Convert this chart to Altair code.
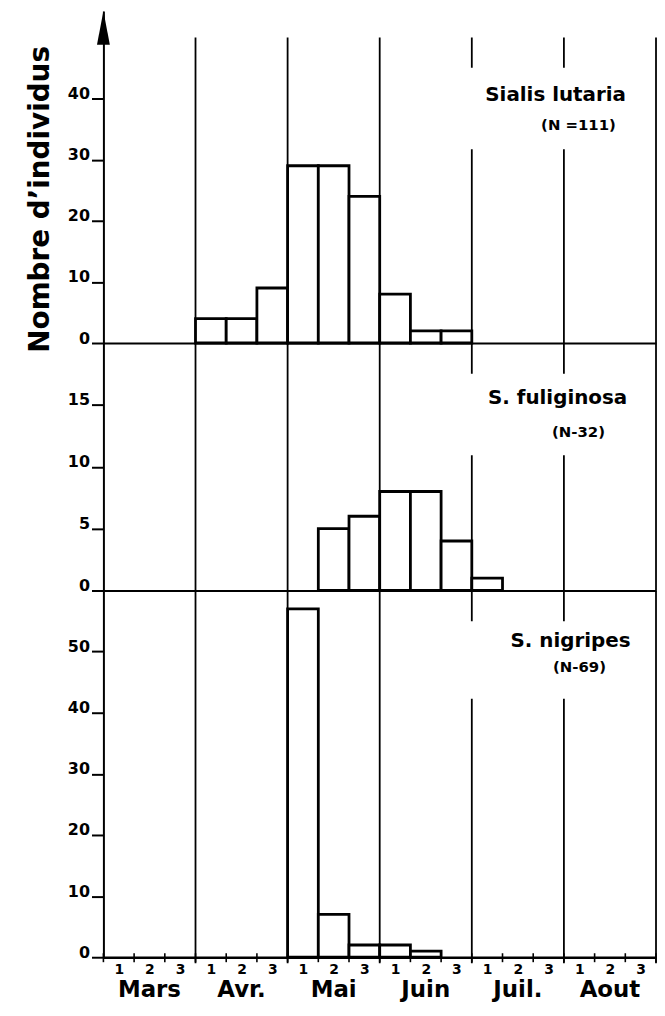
import altair as alt
import pandas as pd

# ---------------- data ----------------
months = ["Mars", "Avr.", "Mai", "Juin", "Juil.", "Aout"]
decade_names = ["1", "2", "3"]

# decade index: 0 = Mars 1, 1 = Mars 2, ... 17 = Aout 3
lutaria_decade = [3, 4, 5, 6, 7, 8, 9, 10, 11]
lutaria_count = [4, 4, 9, 29, 29, 24, 8, 2, 2]
fulig_decade = [7, 8, 9, 10, 11, 12]
fulig_count = [5, 6, 8, 8, 4, 1]
nigr_decade = [6, 7, 8, 9, 10]
nigr_count = [57, 7, 2, 2, 1]

species = ["Sialis lutaria", "S. fuliginosa", "S. nigripes"]
n_labels = ["(N =111)", "(N-32)", "(N-69)"]

y_ticks_1 = [0, 10, 20, 30, 40]
y_ticks_2 = [0, 5, 10, 15]
y_ticks_3 = [0, 10, 20, 30, 40, 50]
y_title = "Nombre d\u2019individus"

# ---------------- style ----------------
FONT = "DejaVu Sans"
W = 556
K = 6.15
H1, H2, H3 = 334, 249, 369
Y1MAX, Y2MAX, Y3MAX = H1 / K, 20, 60
n_dec = 3 * len(months)

xscale = alt.Scale(domain=[0, n_dec], nice=False, zero=False)
boundaries = [3 * (i + 1) for i in range(len(months))]
month_centers = [3 * i + 1.5 for i in range(len(months))]
label_expr = "[" + ",".join("'%s'" % d for d in decade_names) + "][floor(datum.value) % 3]"

ARROW = "M0,-1L0.38,1L-0.38,1Z"


def one():
    return pd.DataFrame({"a": [0]})


def panel(dec, cnt, H, ymax, yvals, sp, nl, sp_xy, nl_xy, mask_y, rule_top,
          title=False, bottom=False):
    if bottom:
        xaxis = alt.Axis(values=[i + 0.5 for i in range(n_dec)], labelExpr=label_expr,
                         ticks=False, tickSize=0, labelPadding=5, labelFontSize=14,
                         labelFont=FONT, labelFontWeight="bold", labelColor="black",
                         labelOverlap=False, title=None, domainWidth=2.5,
                         domainColor="black", grid=False)
    else:
        xaxis = alt.Axis(labels=False, ticks=False, title=None, domainWidth=2,
                         domainColor="black", grid=False)
    X = alt.X("x:Q", scale=xscale, axis=xaxis)

    yaxis_kw = dict(values=yvals, tickSize=12, tickWidth=2, tickColor="black",
                    labelPadding=2, labelBaseline="alphabetic", labelFontSize=16,
                    labelFont=FONT, labelFontWeight="bold", labelColor="black",
                    domainWidth=2, domainColor="black", grid=False)
    if title:
        yaxis = alt.Axis(title=y_title, titleFont=FONT, titleFontSize=28,
                         titleFontWeight="bold", titleColor="black",
                         titleX=-49, titleY=189, **yaxis_kw)
    else:
        yaxis = alt.Axis(title=None, **yaxis_kw)

    rules = alt.Chart(pd.DataFrame({"x": boundaries})).mark_rule(
        color="black", strokeWidth=1.8).encode(
        x=X, y=alt.value(rule_top), y2=alt.value(H + (6 if bottom else 0)))

    mask = alt.Chart(one()).mark_rect(fill="white").encode(
        x=alt.value(365), x2=alt.value(540), y=alt.value(mask_y[0]), y2=alt.value(mask_y[1]))

    sp_text = alt.Chart(pd.DataFrame({"label": [sp]})).mark_text(
        font=FONT, fontSize=20, fontWeight="bold", color="black").encode(
        x=alt.value(sp_xy[0]), y=alt.value(sp_xy[1]), text="label:N")
    nl_text = alt.Chart(pd.DataFrame({"label": [nl]})).mark_text(
        font=FONT, fontSize=15, fontWeight="bold", color="black").encode(
        x=alt.value(nl_xy[0]), y=alt.value(nl_xy[1]), text="label:N")

    bars = alt.Chart(pd.DataFrame({"x": dec, "n": cnt})).transform_calculate(
        x2="datum.x + 1").mark_rect(fill="white", stroke="black", strokeWidth=2.8,
                                    strokeJoin="miter").encode(
        x=X, x2="x2:Q",
        y=alt.Y("n:Q", scale=alt.Scale(domain=[0, ymax], nice=False), axis=yaxis),
        y2=alt.datum(0))

    layers = [rules, mask, sp_text, nl_text, bars]

    if title:
        arrow = alt.Chart(one()).mark_point(shape=ARROW, filled=True, fill="black",
                                            strokeWidth=0, size=1156, opacity=1).encode(
            x=alt.value(0), y=alt.value(17))
        layers.append(arrow)

    if bottom:
        stubs = alt.Chart(pd.DataFrame({"x": list(range(n_dec + 1))})).mark_rule(
            color="black", strokeWidth=1.6).encode(
            x=X, y=alt.value(H - 4), y2=alt.value(H + 5))
        mlab = alt.Chart(pd.DataFrame({"x": month_centers, "label": months})).mark_text(
            font=FONT, fontSize=23, fontWeight="bold", color="black").encode(
            x=X, y=alt.value(H + 33), text="label:N")
        layers += [stubs, mlab]

    return alt.layer(*layers).properties(width=W, height=H)


p1 = panel(lutaria_decade, lutaria_count, H1, Y1MAX, y_ticks_1, species[0], n_labels[0],
           (455, 84), (478, 115), (57, 139), H1 - 50 * K, title=True)
p2 = panel(fulig_decade, fulig_count, H2, Y2MAX, y_ticks_2, species[1], n_labels[1],
           (457, 55), (478, 90), (31, 113), 0)
p3 = panel(nigr_decade, nigr_count, H3, Y3MAX, y_ticks_3, species[2], n_labels[2],
           (470, 51), (479, 77), (31, 109), 0, bottom=True)

chart = alt.vconcat(p1, p2, p3, spacing=0, bounds="flush").properties(
    padding={"left": 19, "top": 0, "right": 0, "bottom": 0},
    background="white",
).configure_view(stroke=None)

chart.save("out.html", embed_options={"renderer": "svg", "actions": False})
